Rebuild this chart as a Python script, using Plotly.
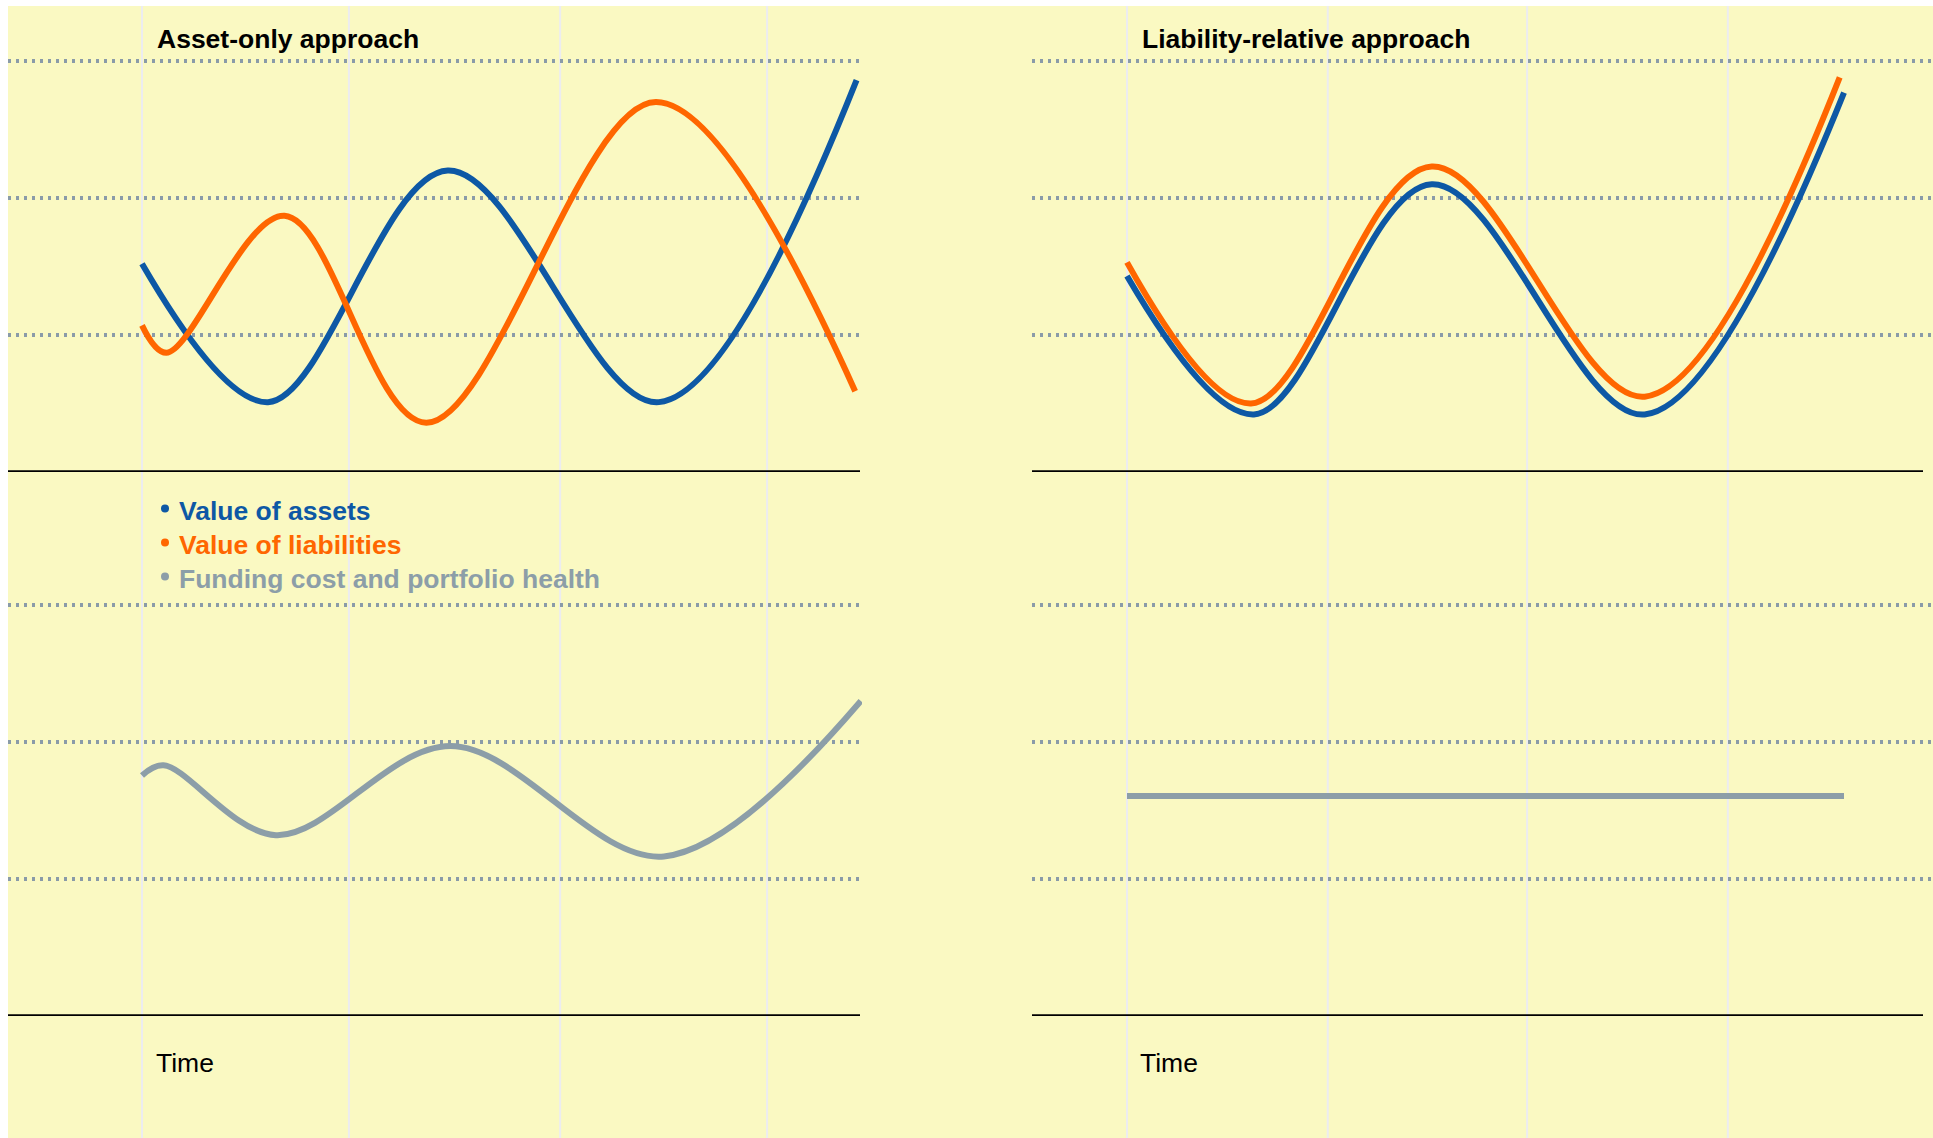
import plotly.graph_objects as go

W, H = 1933, 1138

# Asset-only approach: time on a 0-10 scale, values in gridline units
left_time_assets = [0, 1.76, 4.27, 7.22, 9.98]
left_assets = [1.52, 0.51, 2.20, 0.51, 2.86]

left_time_liab = [0, 0.34, 1.99, 3.97, 7.18, 9.96]
left_liab = [1.07, 0.87, 1.87, 0.36, 2.70, 0.59]

left_time_health = [0, 0.30, 1.87, 4.31, 7.29, 10.04]
left_health = [1.755, 1.83, 1.32, 1.97, 1.165, 2.30]

# Liability-relative approach
right_time_liab = [0, 1.73, 4.25, 7.22, 9.94]
right_liab = [1.53, 0.50, 2.23, 0.55, 2.88]

right_time_assets = [0, 1.77, 4.25, 7.22, 10.0]
right_assets = [1.43, 0.42, 2.10, 0.42, 2.77]

right_time_health = [0, 10.0]
right_health = [1.606, 1.606]

# Value gridlines and faint time gridlines
value_grid = [1, 2, 3]
left_time_grid = [0, 2.89, 5.84, 8.73]
right_time_grid = [0, 2.80, 5.58, 8.38]

titles = ["Asset-only approach", "Liability-relative approach"]
legend_labels = ["Value of assets", "Value of liabilities", "Funding cost and portfolio health"]
x_label = "Time"

BLUE = "#0d58a5"
ORANGE = "#ff6600"
GREY = "#8c9ea8"
BG = "#faf9c2"
DOT = "#8a9ba8"
VGRID = "#ececf0"
FONT = "Liberation Sans, Arial, sans-serif"


def px_x(p):
    return p / W


def px_y(p):
    return 1 - p / H


# pixel geometry of the panels
L_ORIGIN, L_SCALE = 142, 71.6
R_ORIGIN, R_SCALE = 1127, 71.7
UNIT = 137
TOP_BASE, BOT_BASE, TOP_EDGE = 472, 1016, 6
L_LEFT, L_RIGHT = 8, 862
R_LEFT, R_RIGHT = 1032, 1933

fig = go.Figure()

line_w = 6
SMOOTH = 1.0


def curve(x, y, xa, ya, color, name, smooth=True):
    line = dict(color=color, width=line_w)
    if smooth:
        line.update(shape="spline", smoothing=SMOOTH)
    fig.add_trace(go.Scatter(x=x, y=y, xaxis=xa, yaxis=ya, mode="lines", line=line,
                             name=name, showlegend=False, hoverinfo="skip"))


curve(left_time_assets, left_assets, "x", "y", BLUE, legend_labels[0])
curve(left_time_liab, left_liab, "x", "y", ORANGE, legend_labels[1])
curve(left_time_health, left_health, "x", "y2", GREY, legend_labels[2])
curve(right_time_assets, right_assets, "x2", "y3", BLUE, legend_labels[0])
curve(right_time_liab, right_liab, "x2", "y3", ORANGE, legend_labels[1])
curve(right_time_health, right_health, "x2", "y4", GREY, legend_labels[2], smooth=False)

hidden_x = dict(showgrid=False, zeroline=False, showticklabels=False, ticks="", showline=False,
                fixedrange=True)
grid_y = dict(showgrid=True, gridcolor=DOT, gridwidth=3.5, griddash="3px,5px",
              tickvals=value_grid, zeroline=False, showticklabels=False, ticks="",
              showline=False, fixedrange=True)

top_dom = [px_y(TOP_BASE), px_y(TOP_EDGE)]
bot_dom = [px_y(BOT_BASE), px_y(TOP_BASE)]
top_rng = [0, (TOP_BASE - TOP_EDGE) / UNIT]
bot_rng = [0, (BOT_BASE - TOP_BASE) / UNIT]

fig.update_layout(
    width=W, height=H,
    margin=dict(l=0, r=0, t=0, b=0),
    paper_bgcolor="white",
    plot_bgcolor="rgba(0,0,0,0)",
    font=dict(family=FONT),
    xaxis=dict(hidden_x, domain=[px_x(L_LEFT), px_x(L_RIGHT)], anchor="y2",
               range=[(L_LEFT - L_ORIGIN) / L_SCALE, (L_RIGHT - L_ORIGIN) / L_SCALE]),
    xaxis2=dict(hidden_x, domain=[px_x(R_LEFT), px_x(R_RIGHT)], anchor="y4",
                range=[(R_LEFT - R_ORIGIN) / R_SCALE, (R_RIGHT - R_ORIGIN) / R_SCALE]),
    yaxis=dict(grid_y, domain=top_dom, range=top_rng, anchor="x"),
    yaxis2=dict(grid_y, domain=bot_dom, range=bot_rng, anchor="x"),
    yaxis3=dict(grid_y, domain=top_dom, range=top_rng, anchor="x2"),
    yaxis4=dict(grid_y, domain=bot_dom, range=bot_rng, anchor="x2"),
)

shapes = [dict(type="rect", xref="paper", yref="paper", x0=px_x(8), x1=1,
               y0=0, y1=px_y(TOP_EDGE), fillcolor=BG, line=dict(width=0), layer="below")]
for t in left_time_grid:
    shapes.append(dict(type="line", xref="x", yref="paper", x0=t, x1=t, y0=0,
                       y1=px_y(TOP_EDGE), line=dict(color=VGRID, width=2), layer="below"))
for t in right_time_grid:
    shapes.append(dict(type="line", xref="x2", yref="paper", x0=t, x1=t, y0=0,
                       y1=px_y(TOP_EDGE), line=dict(color=VGRID, width=2), layer="below"))
# solid baselines of each panel
for xr, yr, x1 in [("x domain", "y", 1 - 2 / (L_RIGHT - L_LEFT)),
                   ("x domain", "y2", 1 - 2 / (L_RIGHT - L_LEFT)),
                   ("x2 domain", "y3", (1923 - R_LEFT) / (R_RIGHT - R_LEFT)),
                   ("x2 domain", "y4", (1923 - R_LEFT) / (R_RIGHT - R_LEFT))]:
    shapes.append(dict(type="line", xref=xr, yref=yr, x0=0, x1=x1, y0=0, y1=0,
                       line=dict(color="black", width=3.5), layer="above"))

# legend: round bullets followed by coloured labels
legend_rows = [511, 545, 579]
legend_colors = [BLUE, ORANGE, GREY]
for yp, color in zip(legend_rows, legend_colors):
    cy = yp - 2.5
    shapes.append(dict(type="circle", xref="paper", yref="paper",
                       x0=px_x(161), x1=px_x(169), y0=px_y(cy + 4), y1=px_y(cy - 4),
                       fillcolor=color, line=dict(width=0), layer="above"))
fig.update_layout(shapes=shapes)

annotations = []
for text, xp in zip(titles, [154.5, 1139.5]):
    annotations.append(dict(text=f"<b>{text}</b>", x=px_x(xp), y=px_y(39), xref="paper",
                            yref="paper", xanchor="left", yanchor="middle", showarrow=False,
                            font=dict(size=26.5, color="black", family=FONT)))
for text, color, yp in zip(legend_labels, legend_colors, legend_rows):
    annotations.append(dict(text=f"<b>{text}</b>", x=px_x(177), y=px_y(yp), xref="paper",
                            yref="paper", xanchor="left", yanchor="middle", showarrow=False,
                            font=dict(size=26.5, color=color, family=FONT)))
for xp in [154, 1138]:
    annotations.append(dict(text=x_label, x=px_x(xp), y=px_y(1063), xref="paper", yref="paper",
                            xanchor="left", yanchor="middle", showarrow=False,
                            font=dict(size=26.5, color="black", family=FONT)))
fig.update_layout(annotations=annotations)

fig.write_html("out.html")
